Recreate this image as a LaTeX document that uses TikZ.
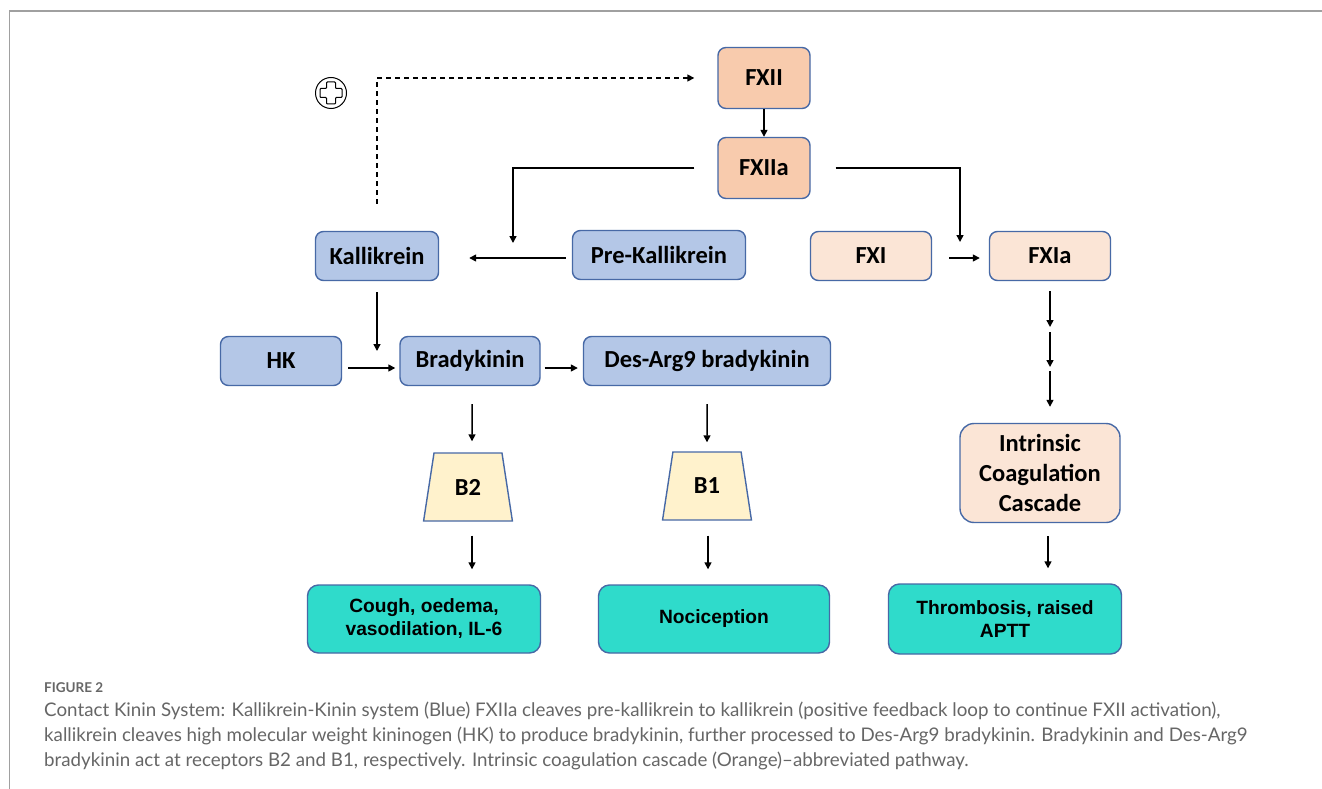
\documentclass[tikz,border=0pt]{standalone}
\usepackage{fontspec}
\setmainfont{Carlito}
\newfontfamily\arialf{Liberation Sans}
\newfontfamily\capf{Lato}
\usetikzlibrary{arrows.meta,shapes.geometric,calc}
\definecolor{bluefill}{HTML}{B4C7E7}
\definecolor{boxedge}{HTML}{4769A6}
\definecolor{orangefill}{HTML}{F8CBAD}
\definecolor{peachfill}{HTML}{FBE5D6}
\definecolor{yellowfill}{HTML}{FFF2CC}
\definecolor{tealfill}{HTML}{2FDBCB}
\definecolor{framegray}{HTML}{A0A0A0}
\definecolor{capgray}{HTML}{666666}
\tikzset{
  box/.style={draw=boxedge, line width=1.4pt, rounded corners=8pt, align=center,
    inner sep=0pt, font=\fontsize{24.5}{29}\selectfont\bfseries},
  bluebox/.style={box, fill=bluefill},
  orbox/.style={box, fill=orangefill},
  pchbox/.style={box, fill=peachfill},
  tealbox/.style={box, fill=tealfill, rounded corners=11pt,
    font=\arialf\fontsize{19.2}{23}\selectfont\bfseries},
  receptor/.style={draw=boxedge, line width=1.4pt, fill=yellowfill, trapezium,
    trapezium stretches=true, trapezium left angle=76, trapezium right angle=76,
    minimum width=89pt, minimum height=68pt, inner sep=0pt,
    font=\fontsize{24.5}{29}\selectfont\bfseries},
  arr/.style={-{Triangle[length=7pt,width=7pt]}, line width=1.5pt, black},
  captext/.style={anchor=base west, inner sep=0pt, text=capgray,
    font=\capf\fontsize{18.75}{22}\selectfont},
}
\begin{document}
\begin{tikzpicture}[x=1pt,y=-1pt]
\useasboundingbox (0,0) rectangle (1322,789);
\fill[white] (0,0) rectangle (1322,789);
% frame
\draw[framegray, line width=1.2pt] (9.5,789) -- (9.5,11) -- (1322,11);

% nodes
\node[orbox, minimum width=92pt, minimum height=61pt] (fxii) at (764,78) {FXII};
\node[orbox, minimum width=92pt, minimum height=61pt] (fxiia) at (764,168) {FXIIa};
\node[bluebox, minimum width=123pt, minimum height=49pt] (kal) at (377,256) {Kallikrein};
\node[bluebox, minimum width=173pt, minimum height=49pt] (prek) at (659,255) {Pre-Kallikrein};
\node[pchbox, minimum width=121pt, minimum height=49pt] (fxi) at (871,256) {FXI};
\node[pchbox, minimum width=121pt, minimum height=49pt] (fxia) at (1050,256) {FXIa};
\node[bluebox, minimum width=121pt, minimum height=49pt] (hk) at (281,361) {HK};
\node[bluebox, minimum width=140pt, minimum height=49pt] (brady) at (470,361) {Bradykinin};
\node[bluebox, minimum width=247pt, minimum height=49pt] (des) at (707,361) {Des-Arg9 bradykinin};
\node[receptor] (b2) at (468,487) {B2};
\node[receptor] (b1) at (707,486) {B1};
\node[pchbox, minimum width=160pt, minimum height=99pt, rounded corners=14pt,
  font=\fontsize{24.5}{30}\selectfont\bfseries] (intr) at (1040,473)
  {Intrinsic\\Coagulation\\Cascade};
\node[tealbox, minimum width=233pt, minimum height=68pt] (cough) at (424,619)
  {Cough, oedema,\\vasodilation, IL-6};
\node[tealbox, minimum width=231pt, minimum height=68pt] (noci) at (714,619) {Nociception};
\node[tealbox, minimum width=233pt, minimum height=70pt] (thr) at (1005,619)
  {Thrombosis, raised\\APTT};

% plus sign
\node[draw, circle, line width=1pt, minimum size=31pt, inner sep=0pt] (plus) at (331,93) {};
\draw[line width=1pt, rounded corners=0.8pt]
  ($(plus.center)+(-4.5,-11)$) -- ++(9,0) -- ++(0,6.5) -- ++(6.5,0) -- ++(0,9)
  -- ++(-6.5,0) -- ++(0,6.5) -- ++(-9,0) -- ++(0,-6.5) -- ++(-6.5,0) -- ++(0,-9)
  -- ++(6.5,0) -- cycle;

% junction coordinates
\coordinate (j1) at (513,243);
\coordinate (j2) at (960,242);
\coordinate (j3) at (377,351);
\coordinate (c1a) at (1050,327);
\coordinate (c1b) at (1050,332);
\coordinate (c2a) at (1050,367);
\coordinate (c2b) at (1050,371);

% connectors
\draw[arr, dashed, dash pattern=on 5pt off 4pt] ([yshift=27pt]kal.north) |- ([xshift=-23pt]fxii.west);
\draw[arr] (fxii.south) -- (fxiia.north);
\draw[arr] ([xshift=-23pt]fxiia.west) -| (j1);
\draw[arr] ([xshift=25pt]fxiia.east) -| (j2);
\draw[arr] ([xshift=-6pt,yshift=-3pt]prek.west) -- ([xshift=30pt,yshift=-2pt]kal.east);
\draw[arr] ([xshift=17pt,yshift=-2pt]fxi.east) -- ([xshift=-9pt,yshift=-2pt]fxia.west);
\draw[arr] ([yshift=-11pt]kal.south) -- (j3);
\draw[arr] ([xshift=6pt,yshift=-7pt]hk.east) -- ([xshift=-4pt,yshift=-7pt]brady.west);
\draw[arr] ([xshift=4pt,yshift=-7pt]brady.east) -- ([xshift=-5pt,yshift=-7pt]des.west);
\draw[arr] ([xshift=2pt,yshift=-18pt]brady.south) -- ([xshift=4pt,yshift=11pt]b2.north);
\draw[arr] ([yshift=-18pt]des.south) -- ([yshift=9pt]b1.north);
\draw[arr] ([xshift=4pt,yshift=-14pt]b2.south) -- ($(b2.south |- cough.north)+(4pt,15pt)$);
\draw[arr] ([xshift=1pt,yshift=-15pt]b1.south) -- ($(b1.south |- noci.north)+(1pt,15pt)$);
\draw[arr] ([yshift=-10pt]fxia.south) -- (c1a);
\draw[arr] (c1b) -- (c2a);
\draw[arr] (c2b) -- ($(intr.north -| c2b)+(0,16pt)$);
\draw[arr] ([xshift=8pt,yshift=-13pt]intr.south) -- ($(intr.south |- thr.north)+(8pt,15pt)$);

% caption
\node[captext, font=\capf\fontsize{13.5}{16}\selectfont\bfseries] (figlab) at (44,692.5) {FIGURE 2};
\node[captext] (cap1) at (44,716) {Contact Kinin System: Kallikrein-Kinin system (Blue) FXIIa cleaves pre-kallikrein to kallikrein (positive feedback loop to continue FXII activation),};
\node[captext] (cap2) at (44,741) {kallikrein cleaves high molecular weight kininogen (HK) to produce bradykinin, further processed to Des-Arg9 bradykinin. Bradykinin and Des-Arg9};
\node[captext] (cap3) at (44,766) {bradykinin act at receptors B2 and B1, respectively. Intrinsic coagulation cascade (Orange)–abbreviated pathway.};
\end{tikzpicture}
\end{document}
